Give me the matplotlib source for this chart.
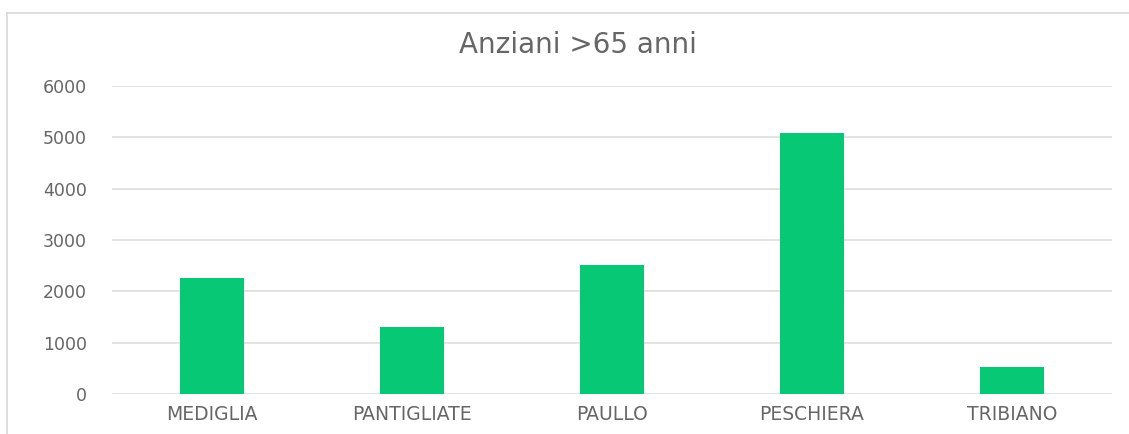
import matplotlib.pyplot as plt
from matplotlib.lines import Line2D

# Data
comuni = ['MEDIGLIA', 'PANTIGLIATE', 'PAULLO', 'PESCHIERA', 'TRIBIANO']
anziani = [2260, 1300, 2510, 5090, 520]
yticks = [0, 1000, 2000, 3000, 4000, 5000, 6000]

plt.rcParams['font.family'] = ['DejaVu Sans']
grey = '#666666'

fig = plt.figure(figsize=(11.29, 4.34), dpi=100)
ax = fig.add_axes([112 / 1129, 1 - 394 / 434, 1000 / 1129, 308 / 434])

x = range(len(comuni))
ax.bar(x, anziani, width=0.32, color='#07c975', zorder=3)

ax.set_xlim(-0.5, len(comuni) - 0.5)
ax.set_ylim(0, 6000)
ax.set_yticks(yticks)
ax.set_yticklabels([str(v) for v in yticks], fontsize=12.5, color=grey)
ax.set_xticks(list(x))
ax.set_xticklabels(comuni, fontsize=13.5, color=grey)
ax.tick_params(length=0)
ax.tick_params(axis='y', pad=18)
ax.tick_params(axis='x', pad=8)
ax.grid(axis='y', color='#dddddd', linewidth=1.2, zorder=0)
for s in ax.spines.values():
    s.set_visible(False)

fig.text(578 / 1129, 1 - 45 / 434, 'Anziani >65 anni', ha='center', va='center',
         fontsize=20, color=grey)

# chart frame (top and left edge)
fig.add_artist(Line2D([7 / 1129, 1], [1 - 13 / 434, 1 - 13 / 434],
                      transform=fig.transFigure, color='#d9d9d9', linewidth=1.2))
fig.add_artist(Line2D([7 / 1129, 7 / 1129], [0, 1 - 13 / 434],
                      transform=fig.transFigure, color='#d9d9d9', linewidth=1.2))

fig.savefig('out.png', dpi=100)
